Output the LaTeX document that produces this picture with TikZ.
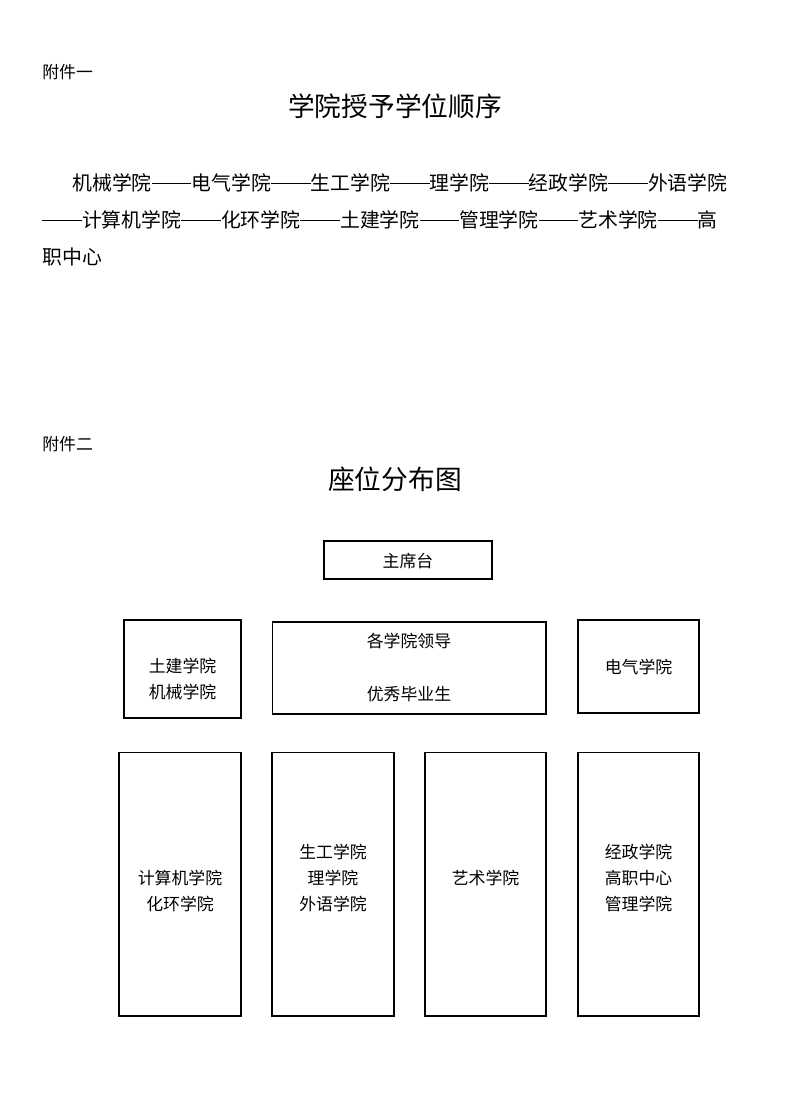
\documentclass[tikz,border=0pt]{standalone}
\usepackage{fontspec}
\setmainfont{Noto Sans CJK SC}
\usetikzlibrary{positioning}
\newcommand\dash{\rule[0.32em]{2em}{0.5pt}}
\tikzset{
	seat/.style = {rectangle, draw=black, line width=0.6pt, inner sep=0pt},
	seattext/.style = {align=center, inner sep=0pt, font=\fontsize{9.6}{14.8}\selectfont},
	heading/.style = {font=\fontsize{15.2}{18}\selectfont},
	label/.style = {anchor=west, inner sep=0pt, font=\fontsize{9.6}{12}\selectfont},
	textline/.style = {anchor=west, inner sep=0pt, font=\fontsize{11.3}{14}\selectfont}
}
\begin{document}
\begin{tikzpicture}[x=0.02cm, y=-0.02cm]
\useasboundingbox (0,0) rectangle (800,1115);
%----------------------------------------------------------------------------
% Part one
\node (annexOne) [label] at (42,72) {附件一};
\node (orderTitle) [heading] at (395,106) {学院授予学位顺序};
\node (orderLineA) [textline] at (72,183) {机械学院\dash 电气学院\dash 生工学院\dash 理学院\dash 经政学院\dash 外语学院};
\node (orderLineB) [textline] at (42,220) {\dash 计算机学院\dash 化环学院\dash 土建学院\dash 管理学院\dash 艺术学院\dash 高};
\node (orderLineC) [textline] at (42,257) {职中心};

%----------------------------------------------------------------------------
% Part two
\node (annexTwo) [label] at (42,444) {附件二};
\node (seatTitle) [heading] at (395,479) {座位分布图};

\node (podium) [seat, minimum width=3.36cm, minimum height=0.76cm] at (408,560) {};
\node (podiumText) [seattext] at (408,561) {主席台};
\node (tujian) [seat, minimum width=2.34cm, minimum height=1.96cm] at (182.5,669) {};
\node (tujianText) [seattext] at (182.5,679) {土建学院\\机械学院};
\node (leaders) [seat, minimum width=5.48cm, minimum height=1.84cm] at (409,668) {};
\node (leadersA) [seattext] at (409,641) {各学院领导};
\node (leadersB) [seattext] at (409,694) {优秀毕业生};
\node (dianqi) [seat, minimum width=2.42cm, minimum height=1.86cm] at (638.5,666.5) {};
\node (dianqiText) [seattext] at (638.5,667) {电气学院};

\node (colA) [seat, minimum width=2.44cm, minimum height=5.28cm] at (180,884) {};
\node (colAText) [seattext] at (180,891) {计算机学院\\化环学院};
\node (colB) [seat, minimum width=2.44cm, minimum height=5.28cm] at (333,884) {};
\node (colBText) [seattext] at (333,878) {生工学院\\理学院\\外语学院};
\node (colC) [seat, minimum width=2.42cm, minimum height=5.28cm] at (485.5,884) {};
\node (colCText) [seattext] at (485.5,878) {艺术学院};
\node (colD) [seat, minimum width=2.42cm, minimum height=5.28cm] at (638.5,884) {};
\node (colDText) [seattext] at (638.5,878) {经政学院\\高职中心\\管理学院};
\end{tikzpicture}
\end{document}
